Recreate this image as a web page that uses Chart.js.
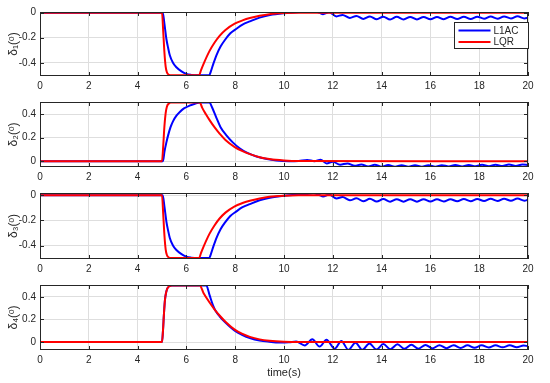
<!DOCTYPE html>
<html>
<head>
<meta charset="utf-8">
<script src="https://cdn.jsdelivr.net/npm/chart.js@4.4.1/dist/chart.umd.min.js"></script>
<style>
  body { margin: 0; background: #fff; }
  #wrap { position: relative; width: 550px; height: 383px; }
  .pane { position: absolute; left: 0; width: 550px; }
</style>
</head>
<body>
<div id="wrap">
  <div class="pane" style="top:0px;height:92px"><canvas id="c1"></canvas></div>
  <div class="pane" style="top:92px;height:91px"><canvas id="c2"></canvas></div>
  <div class="pane" style="top:183px;height:92px"><canvas id="c3"></canvas></div>
  <div class="pane" style="top:275px;height:108px"><canvas id="c4"></canvas></div>
</div>
<script>
// series names and tick labels
const seriesNames = ['L1AC', 'LQR'];
const xTicks = [0, 2, 4, 6, 8, 10, 12, 14, 16, 18, 20];
const yTicksNeg = [-0.4, -0.2, 0];
const yTicksPos = [0, 0.2, 0.4];

// delta 1
const tLqr1 = [0, 5.0, 5.05, 5.1, 5.15, 5.2, 5.28, 5.38, 6.52, 6.6, 6.7, 6.95, 7.15, 7.36, 7.6, 7.98, 8.3, 8.6, 9.0, 9.4, 10.0, 10.6, 20];
const dLqr1 = [0, 0, -0.15, -0.32, -0.43, -0.475, -0.495, -0.5, -0.5, -0.458, -0.41, -0.305, -0.24, -0.185, -0.138, -0.088, -0.062, -0.043, -0.025, -0.012, -0.003, 0, 0];
const tL1ac1 = [0, 5.03, 5.1, 5.18, 5.25, 5.32, 5.45, 5.59, 5.8, 6.0, 6.2, 6.45, 6.93, 7.0, 7.1, 7.23, 7.4, 7.57, 7.8, 8.05,
  8.3, 8.6, 9.0, 9.42, 10.0, 10.5, 10.9, 11.2, 11.45, 11.6, 11.85, 12.15, 12.4, 12.7, 12.97, 13.25, 13.52, 13.8, 14.07, 14.35,
  14.62, 14.9, 15.17, 15.45, 15.72, 16.0, 16.27, 16.55, 16.82, 17.1, 17.37, 17.65, 17.92, 18.2, 18.47, 18.75, 19.02, 19.3, 19.57, 19.85, 20];
const dL1ac1 = [0, 0, -0.09, -0.21, -0.28, -0.34, -0.4, -0.435, -0.468, -0.488, -0.496, -0.5, -0.5, -0.47, -0.41, -0.34, -0.27, -0.22, -0.165, -0.128,
  -0.095, -0.07, -0.04, -0.02, -0.005, 0.003, 0.006, 0.015, 0.0, -0.012, 0.004, -0.03, -0.018, -0.042, -0.026, -0.05, -0.03, -0.053, -0.032, -0.054,
  -0.033, -0.054, -0.034, -0.054, -0.034, -0.053, -0.034, -0.052, -0.033, -0.051, -0.032, -0.05, -0.032, -0.049, -0.031, -0.048, -0.03, -0.047, -0.029, -0.046, -0.04];

// delta 2
const tLqr2 = [0, 5.0, 5.05, 5.1, 5.15, 5.2, 5.27, 5.36, 6.55, 6.65, 6.8, 6.95, 7.15, 7.36, 7.6, 7.98, 8.3, 8.6, 9.0, 9.4, 10.0, 10.6, 20];
const dLqr2 = [0, 0, 0.13, 0.3, 0.41, 0.465, 0.49, 0.5, 0.5, 0.455, 0.4, 0.35, 0.29, 0.235, 0.18, 0.12, 0.085, 0.06, 0.034, 0.018, 0.006, 0.001, 0];
const tL1ac2 = [0, 5.04, 5.1, 5.18, 5.25, 5.35, 5.45, 5.6, 5.73, 5.9, 6.13, 6.35, 6.55, 6.95, 7.05, 7.23, 7.4, 7.64, 7.9, 8.18,
  8.5, 8.87, 9.3, 9.69, 10.2, 10.6, 10.95, 11.25, 11.5, 11.75, 12.0, 12.3, 12.6, 12.9, 13.17, 13.45, 13.72, 14.0, 14.27, 14.55,
  14.82, 15.1, 15.37, 15.65, 15.92, 16.2, 16.47, 16.75, 17.02, 17.3, 17.57, 17.85, 18.12, 18.4, 18.67, 18.95, 19.22, 19.5, 19.77, 20];
const dL1ac2 = [0, 0, 0.08, 0.16, 0.22, 0.29, 0.34, 0.39, 0.42, 0.45, 0.474, 0.49, 0.5, 0.5, 0.46, 0.37, 0.29, 0.22, 0.16, 0.11,
  0.07, 0.04, 0.018, 0.006, 0.0, 0.002, 0.01, 0.0, 0.012, -0.02, -0.006, -0.03, -0.02, -0.04, -0.028, -0.045, -0.031, -0.047, -0.033, -0.048,
  -0.034, -0.048, -0.035, -0.048, -0.035, -0.047, -0.034, -0.046, -0.033, -0.045, -0.032, -0.044, -0.031, -0.043, -0.03, -0.042, -0.029, -0.041, -0.028, -0.034];

// delta 3
const tLqr3 = [0, 5.0, 5.05, 5.1, 5.15, 5.2, 5.28, 5.38, 6.52, 6.6, 6.7, 6.95, 7.15, 7.36, 7.6, 7.98, 8.3, 8.6, 9.0, 9.4, 10.0, 10.6, 20];
const dLqr3 = [0, 0, -0.15, -0.32, -0.43, -0.475, -0.495, -0.5, -0.5, -0.458, -0.41, -0.305, -0.24, -0.185, -0.138, -0.088, -0.062, -0.043, -0.025, -0.012, -0.003, 0, 0];
const tL1ac3 = [0, 5.03, 5.1, 5.18, 5.25, 5.32, 5.45, 5.59, 5.8, 6.0, 6.2, 6.45, 6.93, 7.0, 7.1, 7.23, 7.4, 7.57, 7.8, 8.05,
  8.3, 8.6, 9.0, 9.42, 10.0, 10.5, 10.9, 11.2, 11.45, 11.6, 11.85, 12.15, 12.4, 12.7, 12.97, 13.25, 13.52, 13.8, 14.07, 14.35,
  14.62, 14.9, 15.17, 15.45, 15.72, 16.0, 16.27, 16.55, 16.82, 17.1, 17.37, 17.65, 17.92, 18.2, 18.47, 18.75, 19.02, 19.3, 19.57, 19.85, 20];
const dL1ac3 = [0, 0, -0.09, -0.21, -0.28, -0.34, -0.4, -0.435, -0.468, -0.488, -0.496, -0.5, -0.5, -0.47, -0.41, -0.34, -0.27, -0.22, -0.165, -0.128,
  -0.095, -0.07, -0.04, -0.02, -0.004, 0.004, 0.008, 0.016, 0.002, -0.01, 0.006, -0.026, -0.014, -0.04, -0.024, -0.048, -0.028, -0.05, -0.03, -0.051,
  -0.031, -0.051, -0.032, -0.051, -0.032, -0.05, -0.032, -0.049, -0.031, -0.048, -0.03, -0.047, -0.029, -0.046, -0.028, -0.045, -0.027, -0.044, -0.026, -0.043, -0.035];

// delta 4
const tLqr4 = [0, 5.0, 5.04, 5.08, 5.12, 5.17, 5.22, 5.3, 5.4, 6.55, 6.7, 6.95, 7.15, 7.36, 7.6, 7.98, 8.3, 8.6, 9.0, 9.4, 10.0, 10.6, 20];
const dLqr4 = [0, 0, 0.1, 0.25, 0.37, 0.44, 0.475, 0.495, 0.5, 0.5, 0.435, 0.35, 0.29, 0.235, 0.18, 0.11, 0.072, 0.046, 0.024, 0.012, 0.003, 0, 0];
const tL1ac4 = [0, 5.0, 5.04, 5.08, 5.12, 5.17, 5.22, 5.3, 5.4, 6.82, 6.95, 7.09, 7.2, 7.36, 7.6, 7.98, 8.3, 8.6, 9.0, 9.4, 9.8, 10.2,
  10.5, 10.85, 11.16, 11.46, 11.74, 12.08, 12.35, 12.64, 12.93, 13.21, 13.5, 13.79, 14.07, 14.36, 14.65, 14.94, 15.22, 15.51, 15.8, 16.09,
  16.37, 16.66, 16.95, 17.24, 17.52, 17.81, 18.1, 18.39, 18.67, 18.96, 19.25, 19.54, 19.82, 20];
const dL1ac4 = [0, 0, 0.1, 0.25, 0.37, 0.44, 0.475, 0.495, 0.5, 0.5, 0.415, 0.325, 0.275, 0.228, 0.172, 0.1, 0.062, 0.036, 0.014, 0.003, -0.004, -0.002,
  0.005, -0.03, 0.025, -0.04, 0.02, -0.058, 0.01, -0.068, -0.005, -0.068, -0.012, -0.066, -0.017, -0.063, -0.02, -0.06, -0.023, -0.058, -0.025, -0.056,
  -0.027, -0.054, -0.028, -0.052, -0.029, -0.05, -0.029, -0.048, -0.029, -0.046, -0.029, -0.045, -0.03, -0.036];

const FONT = '"Liberation Sans", Arial, "DejaVu Sans", sans-serif';
const AX = '#262626';
const GRID = '#dedede';

function pts(t, d) {
  return t.map((x, i) => ({ x: x, y: d[i] }));
}

// axes box with inward ticks (matlab style), optional legend
const axesBox = {
  id: 'axesBox',
  afterDraw(chart, args, opts) {
    const ctx = chart.ctx, a = chart.chartArea;
    const xs = chart.scales.x, ys = chart.scales.y;
    ctx.save();
    ctx.strokeStyle = AX;
    ctx.lineWidth = 1;
    ctx.beginPath();
    xTicks.forEach(v => {
      const px = Math.round(xs.getPixelForValue(v)) + 0.5;
      ctx.moveTo(px, a.top); ctx.lineTo(px, a.top + 4);
      ctx.moveTo(px, a.bottom); ctx.lineTo(px, a.bottom - 4);
    });
    ys.ticks.forEach(t => {
      const py = Math.round(ys.getPixelForValue(t.value)) + 0.5;
      ctx.moveTo(a.left, py); ctx.lineTo(a.left + 4, py);
      ctx.moveTo(a.right, py); ctx.lineTo(a.right - 4, py);
    });
    ctx.stroke();
    ctx.strokeRect(Math.round(a.left) + 0.5, Math.round(a.top) + 0.5, Math.round(a.width) - 1, Math.round(a.height) - 1);

    if (opts.legend) {
      const bw = 74, bh = 26;
      const bx = Math.round(a.right) - bw + 0.5, by = Math.round(a.top) + 10.5;
      ctx.fillStyle = '#fff';
      ctx.fillRect(bx, by, bw, bh);
      ctx.strokeRect(bx, by, bw, bh);
      const cols = ['#0000ff', '#ff0000'];
      ctx.font = '10px ' + FONT;
      ctx.textBaseline = 'middle';
      seriesNames.forEach((name, i) => {
        const y = by + 8 + i * 11.5;
        ctx.strokeStyle = cols[i];
        ctx.lineWidth = 2;
        ctx.beginPath();
        ctx.moveTo(bx + 4, y); ctx.lineTo(bx + 36, y);
        ctx.stroke();
        ctx.fillStyle = AX;
        ctx.fillText(name, bx + 39, y + 0.5);
      });
    }
    ctx.restore();
  }
};

function makeChart(id, blue, red, yMin, yMax, yTicks, yLabel, padTop, xHeight, showXTitle, legend) {
  return new Chart(document.getElementById(id), {
    type: 'line',
    data: {
      datasets: [
        { label: seriesNames[0], data: blue, borderColor: '#0000ff', borderWidth: 2, pointRadius: 0, cubicInterpolationMode: 'monotone', order: 1 },
        { label: seriesNames[1], data: red, borderColor: '#ff0000', borderWidth: 2, pointRadius: 0, cubicInterpolationMode: 'monotone', order: 0 }
      ]
    },
    options: {
      responsive: true,
      maintainAspectRatio: false,
      animation: false,
      layout: { padding: { top: padTop, right: 22, left: 0, bottom: 0 } },
      plugins: { legend: { display: false }, tooltip: { enabled: false }, axesBox: { legend: legend } },
      scales: {
        x: {
          type: 'linear', min: 0, max: 20,
          afterBuildTicks: s => { s.ticks = xTicks.map(v => ({ value: v })); },
          afterFit: s => { s.height = xHeight; },
          grid: { color: GRID, drawTicks: false },
          border: { display: false },
          ticks: { color: AX, font: { family: FONT, size: 10 }, padding: 4, maxRotation: 0, autoSkip: false, callback: v => String(v) },
          title: { display: showXTitle, text: 'time(s)', color: AX, font: { family: FONT, size: 11 }, padding: { top: 2, bottom: 3 } }
        },
        y: {
          type: 'linear', min: yMin, max: yMax,
          afterBuildTicks: s => { s.ticks = yTicks.map(v => ({ value: v })); },
          afterFit: s => { s.width = 40; },
          grid: { color: GRID, drawTicks: false },
          border: { display: false },
          ticks: { color: AX, font: { family: FONT, size: 10 }, padding: 4, callback: v => v === 0 ? '0' : v.toFixed(1) },
          title: { display: true, text: yLabel, color: AX, font: { family: FONT, size: 12 }, padding: { top: 6, bottom: 0 } }
        }
      }
    },
    plugins: [axesBox]
  });
}

makeChart('c1', pts(tL1ac1, dL1ac1), pts(tLqr1, dLqr1), -0.505, 0.005, yTicksNeg, 'δ₁(ᵒ)', 12, 16, false, true);
makeChart('c2', pts(tL1ac2, dL1ac2), pts(tLqr2, dLqr2), -0.05, 0.505, yTicksPos, 'δ₂(ᵒ)', 10, 16, false, false);
makeChart('c3', pts(tL1ac3, dL1ac3), pts(tLqr3, dLqr3), -0.507, 0.018, yTicksNeg, 'δ₃(ᵒ)', 9, 16, false, false);
makeChart('c4', pts(tL1ac4, dL1ac4), pts(tLqr4, dLqr4), -0.07, 0.505, yTicksPos, 'δ₄(ᵒ)', 9, 33, true, false);
</script>
</body>
</html>
